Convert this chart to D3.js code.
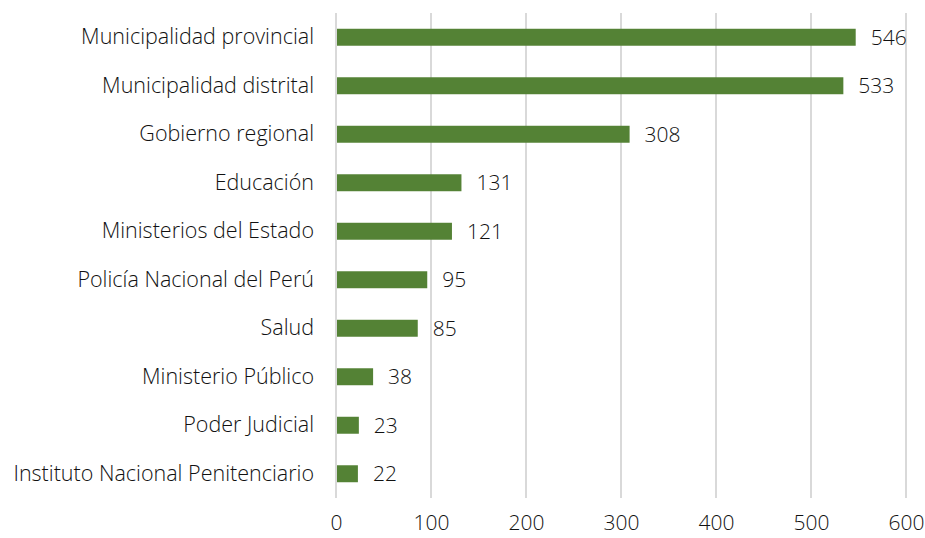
<!DOCTYPE html>
<html>
<head>
<meta charset="utf-8">
<script src="https://cdn.jsdelivr.net/npm/d3@7"></script>
<style>
  body { margin: 0; background: #fff; }
  text { font-family: "Open Sans", sans-serif; font-weight: 300; fill: #111; }
</style>
</head>
<body>
<div id="chart"></div>
<script>
var categories = ["Municipalidad provincial", "Municipalidad distrital", "Gobierno regional",
  "Educación", "Ministerios del Estado", "Policía Nacional del Perú", "Salud",
  "Ministerio Público", "Poder Judicial", "Instituto Nacional Penitenciario"];
var values = [546, 533, 308, 131, 121, 95, 85, 38, 23, 22];
var xTicks = [0, 100, 200, 300, 400, 500, 600];

var svgWidth = 925;
var svgHeight = 538;
var margin = { top: 13, right: 19, bottom: 40, left: 336 };
var chartWidth = svgWidth - margin.left - margin.right;
var chartHeight = svgHeight - margin.top - margin.bottom;

var svg = d3.select("#chart").append("svg")
  .attr("width", svgWidth)
  .attr("height", svgHeight);

var chartGroup = svg.append("g")
  .attr("transform", `translate(${margin.left},${margin.top})`);

var x = d3.scaleLinear().domain([0, 600]).range([0, chartWidth]);
var y = d3.scaleBand().domain(categories).range([0, chartHeight]).paddingInner(0.65).paddingOuter(0.325);

// gridlines
chartGroup.selectAll("line.grid")
  .data(xTicks)
  .enter().append("line")
  .attr("x1", d => x(d)).attr("x2", d => x(d))
  .attr("y1", 0).attr("y2", chartHeight)
  .attr("stroke", "#d9d9d9")
  .attr("stroke-width", 2);

// bars
chartGroup.selectAll("rect.bar")
  .data(values)
  .enter().append("rect")
  .attr("x", x(0) + 1)
  .attr("y", (d, i) => y(categories[i]))
  .attr("width", d => x(d) - x(0))
  .attr("height", y.bandwidth())
  .attr("fill", "#548235");

// value labels
chartGroup.selectAll("text.val")
  .data(values)
  .enter().append("text")
  .attr("x", d => x(d) + 16)
  .attr("y", (d, i) => y(categories[i]) + y.bandwidth() / 2)
  .attr("dy", "0.36em")
  .style("font-size", "21px")
  .text(d => d);

// category axis
var yAxis = chartGroup.append("g")
  .call(d3.axisLeft(y).tickSize(0).tickPadding(22));
yAxis.select(".domain").remove();
yAxis.selectAll("text").style("font-size", "21.5px").style("font-family", "'Open Sans', sans-serif").attr("fill", "#111");

// x axis
var xAxis = chartGroup.append("g")
  .attr("transform", `translate(0,${chartHeight})`)
  .call(d3.axisBottom(x).tickValues(xTicks).tickSize(0).tickPadding(17));
xAxis.select(".domain").remove();
xAxis.selectAll("text").style("font-size", "21px").style("font-family", "'Open Sans', sans-serif").attr("fill", "#111");
</script>
</body>
</html>
